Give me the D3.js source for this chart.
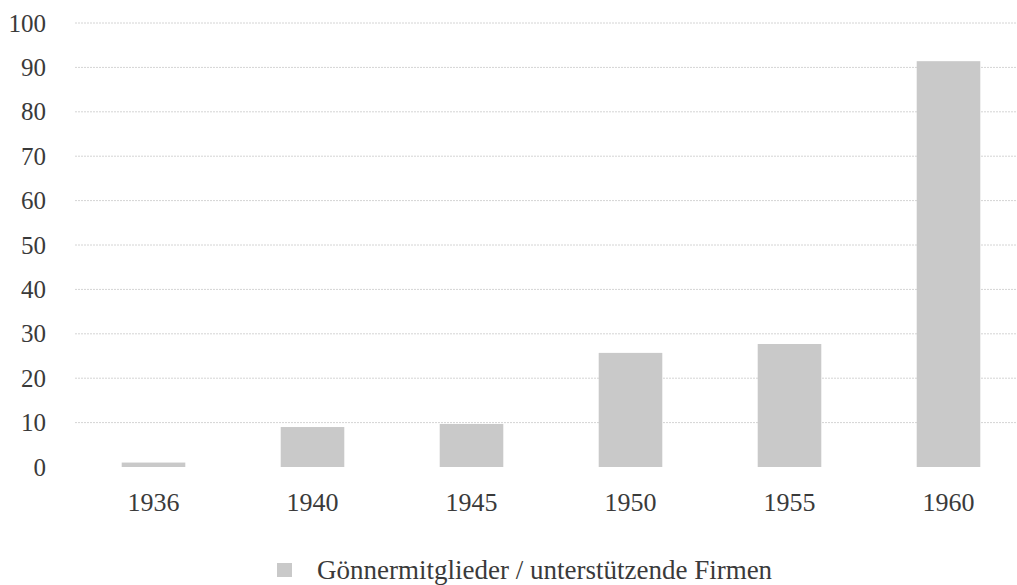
<!DOCTYPE html>
<html>
<head>
<meta charset="utf-8">
<script src="https://d3js.org/d3.v7.min.js"></script>
<style>
  body { margin: 0; background: #fff; }
  text { font-family: "Liberation Serif", "DejaVu Serif", serif; fill: #3a3a3a; }
</style>
</head>
<body>
<div id="chart"></div>
<script>
    // data
    var years = ["1936", "1940", "1945", "1950", "1955", "1960"];
    var values = [1, 9, 9.7, 25.7, 27.7, 91.4];
    var yTicks = [0, 10, 20, 30, 40, 50, 60, 70, 80, 90, 100];
    var legendLabel = "Gönnermitglieder / unterstützende Firmen";

    var width = 1017, height = 585;
    var barColor = "#c9c9c9";

    var svg = d3.select("#chart").append("svg")
        .attr("width", width)
        .attr("height", height);

    var x = d3.scaleBand()
        .domain(years)
        .range([74, 1028])
        .paddingInner(0.6)
        .paddingOuter(0.3);

    var y = d3.scaleLinear()
        .domain([0, 100])
        .range([467, 23]);

    // grid lines
    svg.append("g")
        .selectAll("line")
        .data(yTicks.filter(function (d) { return d > 0; }))
        .enter().append("line")
        .attr("x1", 75)
        .attr("x2", width)
        .attr("y1", function (d) { return y(d); })
        .attr("y2", function (d) { return y(d); })
        .attr("stroke", "#d4d4d4")
        .attr("stroke-width", 1)
        .attr("stroke-dasharray", "2,1");

    // y axis labels
    var yAxis = d3.axisLeft(y).tickValues(yTicks).tickSize(0).tickPadding(0);
    var gy = svg.append("g")
        .attr("transform", "translate(46,0)")
        .call(yAxis);
    gy.select(".domain").remove();
    gy.selectAll("text")
        .attr("font-size", "25px")
        .attr("font-family", "Liberation Serif, serif")
        .attr("fill", "#3a3a3a");

    // bars
    svg.append("g")
        .selectAll("rect")
        .data(values)
        .enter().append("rect")
        .attr("x", function (d, i) { return x(years[i]); })
        .attr("y", function (d) { return y(d); })
        .attr("width", x.bandwidth())
        .attr("height", function (d) { return y(0) - y(d); })
        .attr("fill", barColor);

    // x axis labels
    var xAxis = d3.axisBottom(x).tickSize(0).tickPadding(0);
    var gx = svg.append("g")
        .attr("transform", "translate(0,511)")
        .call(xAxis);
    gx.select(".domain").remove();
    gx.selectAll("text")
        .attr("dy", 0)
        .attr("font-size", "26px")
        .attr("font-family", "Liberation Serif, serif")
        .attr("fill", "#3a3a3a");

    // legend
    var legend = svg.append("g").attr("transform", "translate(277,563)");
    legend.append("rect")
        .attr("width", 15)
        .attr("height", 14)
        .attr("fill", barColor);
    legend.append("text")
        .attr("x", 40)
        .attr("y", 16)
        .attr("font-size", "27px")
        .text(legendLabel);
</script>
</body>
</html>
